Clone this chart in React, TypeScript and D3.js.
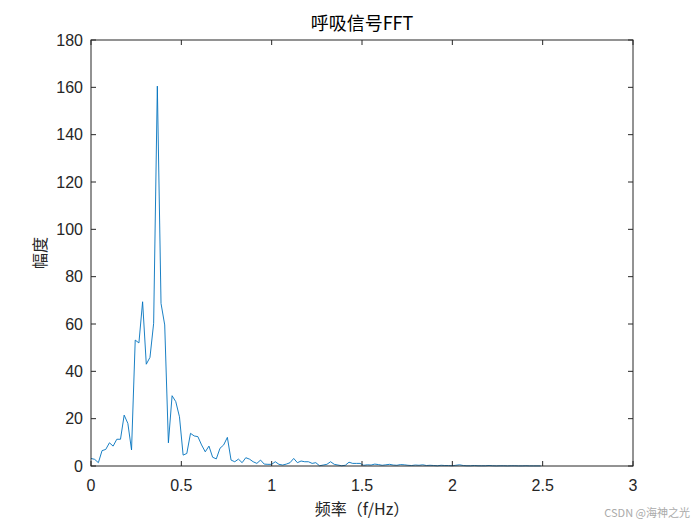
import React from "react";
import * as d3 from "d3";

const freqStep = 0.0204;
const amplitude: number[] = [
  3.2, 2.8, 1.4, 6.5, 7, 9.8, 8.4, 11.3, 11.3, 21.5,
  18, 6.8, 53.2, 52, 69.4, 43, 45.9, 60.3, 160.5, 68.7,
  59.6, 9.8, 29.7, 27.2, 20.8, 4.6, 5.3, 13.8, 12.7, 12.4,
  8.9, 6, 8.4, 3.7, 3, 7.5, 8.9, 12.1, 2.5, 1.8,
  2.9, 1.4, 3.5, 2.9, 1.8, 1.1, 2.5, 0.8, 0.7, 0.7,
  1.8, 0.7, 0.4, 0.8, 1.4, 3.2, 1.4, 2.1, 1.8, 1.8,
  1.1, 1.4, 0.1, 0.4, 0.7, 1.8, 0.7, 0.4, 0.1, 0.3,
  1.6, 1.1, 1.1, 1.1, 0.3, 0.5, 0.4, 0.8, 0.6, 0.3,
  0.5, 0.7, 0.4, 0.3, 0.6, 0.5, 0.3, 0.2, 0.4, 0.3,
  0.5, 0.2, 0.3, 0.2, 0.1, 0.3, 0.2, 0.2, 0.1, 0.3,
  0.5, 0.2, 0.1, 0.1, 0.2, 0.1, 0.1, 0.1, 0.2, 0.1,
  0.05, 0.1, 0.1, 0.05, 0.1, 0.1, 0.05, 0.05, 0.1, 0.05,
  0.05, 0.05, 0.05,
];
const xTicks = [0, 0.5, 1, 1.5, 2, 2.5, 3];
const yTicks = [0, 20, 40, 60, 80, 100, 120, 140, 160, 180];
const titleText = "呼吸信号FFT";
const xLabelText = "频率（f/Hz）";
const yLabelText = "幅度";
const watermark = "CSDN @海神之光";

export default function App() {
  const W = 700, H = 525;
  const left = 91, right = 633, top = 40, bottom = 466;
  const x = d3.scaleLinear().domain([0, 3]).range([left, right]);
  const y = d3.scaleLinear().domain([0, 180]).range([bottom, top]);
  const pts: [number, number][] = amplitude.map((v, i) => [i * freqStep, v]);
  const line = d3.line<[number, number]>().x((d) => x(d[0])).y((d) => y(d[1]));
  const axisColor = "#262626";
  const font = "'Liberation Sans', Arial, sans-serif";
  const cjk = "'Noto Sans CJK SC', 'Liberation Sans', sans-serif";
  const tl = 5;
  return (
    <svg width={W} height={H} style={{ position: "absolute", left: 0, top: 0, background: "#fff" }}>
      <rect x={0} y={0} width={W} height={H} fill="#fff" />
      <path d={line(pts) || ""} fill="none" stroke="#0072BD" strokeWidth={0.9} />
      <rect x={left} y={top} width={right - left} height={bottom - top} fill="none" stroke={axisColor} strokeWidth={1} />
      {xTicks.map((t) => (
        <g key={"x" + t}>
          <line x1={x(t)} x2={x(t)} y1={bottom} y2={bottom - tl} stroke={axisColor} />
          <line x1={x(t)} x2={x(t)} y1={top} y2={top + tl} stroke={axisColor} />
          <text x={x(t)} y={491} textAnchor="middle" fontFamily={font} fontSize={16} fill={axisColor}>{t}</text>
        </g>
      ))}
      {yTicks.map((t) => (
        <g key={"y" + t}>
          <line x1={left} x2={left + tl} y1={y(t)} y2={y(t)} stroke={axisColor} />
          <line x1={right} x2={right - tl} y1={y(t)} y2={y(t)} stroke={axisColor} />
          <text x={83} y={y(t) + 5.5} textAnchor="end" fontFamily={font} fontSize={16} fill={axisColor}>{t}</text>
        </g>
      ))}
      <text x={(left + right) / 2} y={30} textAnchor="middle" fontFamily={cjk} fontSize={18} fill="#000">{titleText}</text>
      <text x={(left + right) / 2} y={515} textAnchor="middle" fontFamily={cjk} fontSize={16} fill={axisColor}>{xLabelText}</text>
      <text transform={`translate(46, ${(top + bottom) / 2}) rotate(-90)`} textAnchor="middle" fontFamily={cjk} fontSize={16} fill={axisColor}>{yLabelText}</text>
      <text x={690} y={517} textAnchor="end" fontFamily={cjk} fontSize={11} fill="#aaa">{watermark}</text>
    </svg>
  );
}
